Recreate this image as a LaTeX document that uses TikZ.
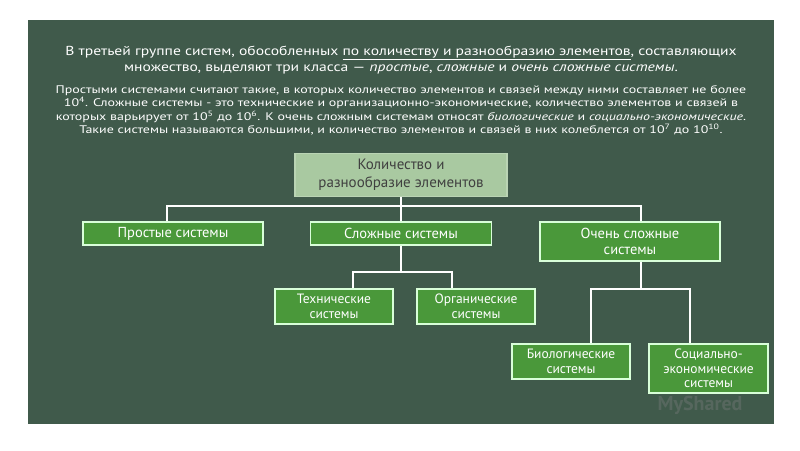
\documentclass[tikz,border=0pt]{standalone}
\usepackage{fontspec}
\setmainfont{PT Sans}
\begin{document}
\begin{tikzpicture}[x=1pt,y=-1pt,
  box/.style={draw=white!85!green,line width=1.2pt,fill=boxgreen,text=white,font=\fontsize{14.5}{16}\selectfont,align=center,inner sep=0pt},
  sbox/.style={box,font=\fontsize{13.5}{14.5}\selectfont},
  conn/.style={draw=white,line width=2pt}]
\definecolor{board}{HTML}{405A4B}
\definecolor{boxgreen}{HTML}{4A983A}
\definecolor{topgreen}{HTML}{A9C9A1}
\fill[white] (0,0) rectangle (800,450);
\useasboundingbox (0,0) rectangle (800,450);
\fill[board] (28,20) rectangle (774,424);
\node[text=white,inner sep=0pt] (h) at (401,60)
 {\scalebox{1.2}[1]{\fontsize{13}{16}\selectfont\begin{tabular}{@{}c@{}}В третьей группе систем, обособленных \underline{по количеству и разнообразию элементов}, составляющих\\
 множество, выделяют три класса --- \textit{простые}, \textit{сложные} и \textit{очень сложные системы}.\end{tabular}}};
\node[text=white,inner sep=0pt] (p) at (401,111)
 {\scalebox{1.27}[1]{\fontsize{11}{13.5}\selectfont\begin{tabular}{@{}c@{}}Простыми системами считают такие, в которых количество элементов и связей между ними составляет не более\\
 10\textsuperscript{4}. Сложные системы - это технические и организационно-экономические, количество элементов и связей в\\
 которых варьирует от 10\textsuperscript{5} до 10\textsuperscript{6}. К очень сложным системам относят \textit{биологические} и \textit{социально-экономические}.\\
 Такие системы называются большими, и количество элементов и связей в них колеблется от 10\textsuperscript{7} до 10\textsuperscript{10}.\end{tabular}}};
% boxes
\node[box,fill=topgreen,draw=topgreen!80!white,text=black!75,font=\fontsize{15}{18}\selectfont,minimum width=212pt,minimum height=43pt] (top) at (401,175) {Количество и\\разнообразие элементов};
\node[box,minimum width=180pt,minimum height=23pt] (s) at (173,233.5) {Простые системы};
\node[box,minimum width=181pt,minimum height=23pt] (c) at (401,233.5) {Сложные системы};
\node[box,minimum width=180pt,minimum height=39pt] (v) at (630,241.5) {Очень сложные\\системы};
\node[sbox,minimum width=118pt,minimum height=35pt] (t) at (334,306.5) {Технические\\системы};
\node[sbox,minimum width=118pt,minimum height=35pt] (o) at (476,306.5) {Органические\\системы};
\node[sbox,minimum width=118pt,minimum height=35pt] (b) at (571,361.5) {Биологические\\системы};
\node[sbox,minimum width=119pt,minimum height=49pt] (e) at (708.5,368.5) {Социально-\\экономические\\системы};
% connectors
\coordinate (j1) at (401,206);
\draw[conn] (top.south) -- (j1);
\draw[conn] (s.north -| 167,0) |- (j1) -| (v.north -| 641,0);
\draw[conn] (j1) -- (c.north);
\coordinate (j2) at (401,272);
\draw[conn] (c.south) -- (j2);
\draw[conn] (t.north -| 353,0) |- (j2) -| (o.north -| 452,0);
\coordinate (j3) at (641,289);
\draw[conn] (v.south -| 641,0) -- (j3);
\draw[conn] (b.north -| 591,0) |- (j3) -| (e.north -| 690,0);
\node[text=gray!60!board,font=\fontsize{20}{20}\selectfont\bfseries,opacity=0.6] (wm) at (700,405) {MyShared};
\end{tikzpicture}
\end{document}
